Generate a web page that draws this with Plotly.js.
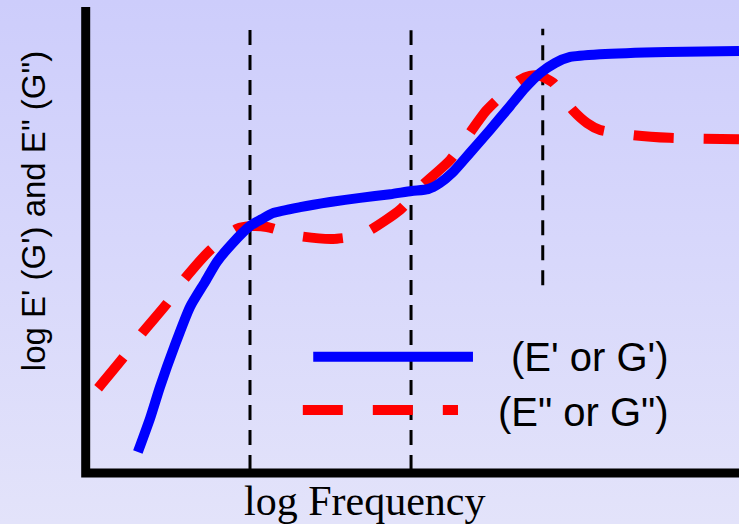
<!DOCTYPE html>
<html>
<head>
<meta charset="utf-8">
<script src="https://cdn.plot.ly/plotly-3.0.1.min.js"></script>
<style>
  html, body { margin: 0; padding: 0; }
  body {
    width: 739px; height: 524px; overflow: hidden;
    background: linear-gradient(to bottom, #cdcdfb 0%, #d8d8fb 50%, #e3e3fa 100%);
  }
  #chart { width: 739px; height: 524px; }
</style>
</head>
<body>
<div id="chart"></div>
<script>
// Storage modulus curve (E' or G') vs log frequency, arbitrary units 0..10
const storageX = [0.78, 0.97, 1.12, 1.35, 1.58, 1.81, 1.99, 2.22, 2.50, 2.68, 2.85, 3.27, 3.73, 4.19, 4.65, 4.98, 5.23, 5.41, 5.60, 5.87, 6.18, 6.49, 6.72, 6.95, 7.18, 7.41, 7.87, 8.90, 10.0];
const storageY = [0.39, 1.13, 1.80, 2.71, 3.53, 4.07, 4.50, 4.89, 5.28, 5.43, 5.56, 5.69, 5.80, 5.89, 5.97, 6.04, 6.08, 6.21, 6.43, 6.86, 7.36, 7.88, 8.27, 8.59, 8.81, 8.94, 9.00, 9.05, 9.07];

// Loss modulus curve (E" or G")
const lossX = [0.17, 0.55, 0.86, 1.23, 1.47, 1.89, 2.30, 2.53, 2.76, 3.27, 3.77, 4.11, 4.34, 4.80, 5.15, 5.57, 6.13, 6.64, 6.79, 6.95, 7.15, 7.33, 7.45, 7.67, 7.87, 8.37, 8.94, 10.0];
const lossY = [1.77, 2.42, 2.99, 3.61, 4.09, 4.76, 5.22, 5.28, 5.26, 5.06, 5.00, 5.06, 5.19, 5.63, 6.17, 6.71, 7.79, 8.44, 8.53, 8.53, 8.38, 8.01, 7.79, 7.51, 7.36, 7.25, 7.19, 7.16];

// Region boundaries (vertical dashed markers)
const boundaryX = [2.50, 4.97, 6.99];
const boundaryBottom = [0, 0, 4.0];
const boundaryTop = [9.55, 9.52, 9.55];

// Labels
const xTitle = 'log Frequency';
const yTitle = 'log E\' (G\') and E" (G")';
const storageLabel = '(E\' or G\')';
const lossLabel = '(E" or G")';

const traces = [];

boundaryX.forEach((bx, i) => {
  traces.push({
    x: [bx, bx],
    y: [boundaryBottom[i], boundaryTop[i]],
    mode: 'lines',
    line: { color: '#000000', width: 3, dash: '15px,10px' },
    hoverinfo: 'skip',
    showlegend: false
  });
});

traces.push({
  x: lossX, y: lossY,
  mode: 'lines',
  name: lossLabel,
  line: { color: '#ff0000', width: 10, dash: '40px,30px', shape: 'spline', smoothing: 0.6 },
  showlegend: false
});

traces.push({
  x: storageX, y: storageY,
  mode: 'lines',
  name: storageLabel,
  line: { color: '#0000ff', width: 10, shape: 'spline', smoothing: 0.6 },
  showlegend: false
});

const layout = {
  width: 739,
  height: 524,
  margin: { l: 87, r: 0, t: 8, b: 54, pad: 0 },
  paper_bgcolor: 'rgba(0,0,0,0)',
  plot_bgcolor: 'rgba(0,0,0,0)',
  showlegend: false,
  xaxis: {
    range: [0, 10], showgrid: false, zeroline: false, showline: false,
    showticklabels: false, ticks: '', fixedrange: true
  },
  yaxis: {
    range: [0, 10], showgrid: false, zeroline: false, showline: false,
    showticklabels: false, ticks: '', fixedrange: true
  },
  shapes: [
    // axis frame (left and bottom)
    {
      type: 'path', xref: 'paper', yref: 'paper',
      path: 'M -0.002,1.002 L -0.002,-0.0065 L 1.01,-0.0065',
      line: { color: '#000000', width: 9 }
    },
    // legend samples
    {
      type: 'line', xref: 'x', yref: 'y',
      x0: 3.47, x1: 5.92, y0: 2.45, y1: 2.45,
      line: { color: '#0000ff', width: 10 }
    },
    {
      type: 'line', xref: 'x', yref: 'y',
      x0: 3.31, x1: 5.69, y0: 1.30, y1: 1.30,
      line: { color: '#ff0000', width: 10, dash: '40px,30px' }
    }
  ],
  annotations: [
    {
      text: xTitle, xref: 'paper', yref: 'paper',
      x: 0.425, y: -0.068, xanchor: 'center', yanchor: 'middle',
      showarrow: false,
      font: { family: 'Liberation Serif, Times New Roman, serif', size: 42, color: '#000000' }
    },
    {
      text: yTitle, xref: 'paper', yref: 'paper',
      x: -0.083, y: 0.56, xanchor: 'center', yanchor: 'middle',
      textangle: -90, showarrow: false,
      font: { family: 'Liberation Sans, Arial, sans-serif', size: 33, color: '#000000' }
    },
    {
      text: storageLabel, xref: 'x', yref: 'y',
      x: 7.71, y: 2.45, xanchor: 'center', yanchor: 'middle',
      showarrow: false,
      font: { family: 'Liberation Sans, Arial, sans-serif', size: 40, color: '#000000' }
    },
    {
      text: lossLabel, xref: 'x', yref: 'y',
      x: 7.62, y: 1.26, xanchor: 'center', yanchor: 'middle',
      showarrow: false,
      font: { family: 'Liberation Sans, Arial, sans-serif', size: 40, color: '#000000' }
    }
  ]
};

Plotly.newPlot('chart', traces, layout, { displayModeBar: false, staticPlot: true });
</script>
</body>
</html>
